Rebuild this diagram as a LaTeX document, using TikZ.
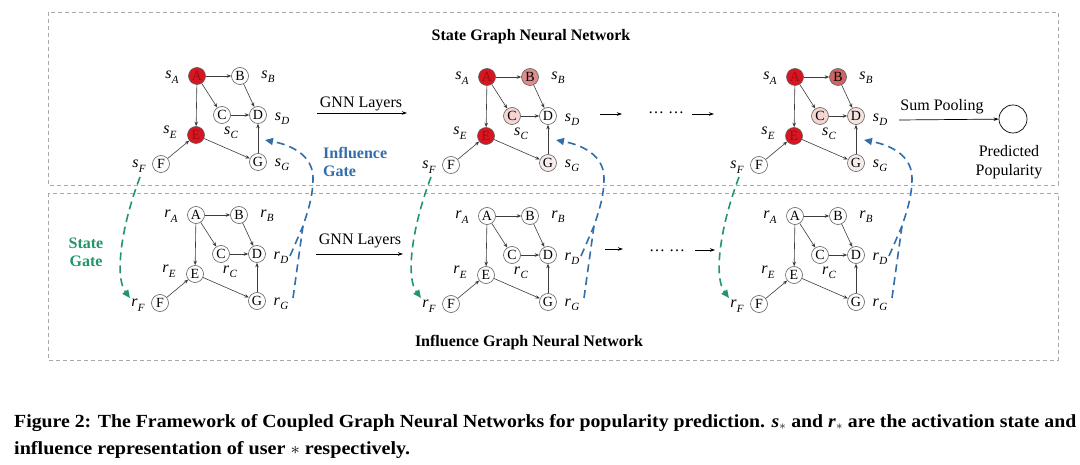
\documentclass[tikz,border=0pt]{standalone}
\usepackage{fontspec}
\setmainfont{Liberation Serif}
\usetikzlibrary{arrows.meta,calc}
\definecolor{nred}{RGB}{214,22,32}
\definecolor{redtxt}{RGB}{160,12,22}
\definecolor{pinkB}{RGB}{222,140,140}
\definecolor{pinkBB}{RGB}{206,100,100}
\definecolor{pinkC}{RGB}{245,212,210}
\definecolor{pinkD}{RGB}{246,226,222}
\definecolor{pinkG}{RGB}{246,236,236}
\definecolor{ndraw}{RGB}{95,95,95}
\definecolor{edgec}{RGB}{60,60,60}
\definecolor{boxc}{RGB}{165,170,170}
\definecolor{sgreen}{RGB}{35,150,105}
\definecolor{iblue}{RGB}{50,110,170}
\newcommand\lbl[2]{\textit{#1}\kern0.3pt\raisebox{-0.28em}{\fontsize{11}{11}\selectfont\textit{#2}}}
\newcommand\gnnet[9]{%
  \node[gn,fill=#3,text=#9] (#1A) at (197,76) {A};
  \node[gn,fill=#4] (#1B) at (240,76) {B};
  \node[gn,fill=#5] (#1C) at (222,115) {C};
  \node[gn,fill=#6] (#1D) at (258,115) {D};
  \node[gn,fill=#7,text=#9] (#1E) at (196,135) {E};
  \node[gn,fill=white] (#1F) at (161,164) {F};
  \node[gn,fill=#8] (#1G) at (258,162) {G};
  \node[lab] (#1lA) at (172,77) {\lbl{#2}{A}};
  \node[lab] (#1lB) at (268,77) {\lbl{#2}{B}};
  \node[lab] (#1lC) at (231,133) {\lbl{#2}{C}};
  \node[lab] (#1lD) at (282,119) {\lbl{#2}{D}};
  \node[lab] (#1lE) at (170,132) {\lbl{#2}{E}};
  \node[lab] (#1lF) at (139,166) {\lbl{#2}{F}};
  \node[lab] (#1lG) at (282,165) {\lbl{#2}{G}};
  \draw[edge] (#1A) -- (#1B);
  \draw[edge] (#1A) -- (#1C);
  \draw[edge] (#1A) -- (#1E);
  \draw[edge] (#1B) -- (#1D);
  \draw[edge] (#1C) -- (#1D);
  \draw[edge] (#1G) -- (#1D);
  \draw[edge] (#1E) -- (#1G);
  \draw[edge] (#1F) -- (#1E);
}
\newcommand\gates[1]{%
  \coordinate (#1Ss) at (140,177);
  \coordinate (#1Se) at (130,298);
  \coordinate (#1Rd) at (290,256);
  \coordinate (#1Rg) at (293,298);
  \coordinate (#1J) at (303,226);
  \coordinate (#1T) at (313,178);
  \coordinate (#1Tip) at (265,140);
  \draw[sgate] (#1Ss) .. controls (120,230) and (115,278) .. (#1Se);
  \draw[igatel] (#1Rd) -- (#1J);
  \draw[igate] (#1Rg) -- (#1J) .. controls (309,208) and (313,195) .. (#1T)
     .. controls (313,158) and (296,146) .. (#1Tip);
}
\tikzset{
  gn/.style={circle,draw=ndraw,line width=0.6pt,minimum size=17pt,inner sep=0pt,
    font=\fontsize{14}{14}\selectfont},
  lab/.style={font=\fontsize{16}{16}\selectfont,inner sep=0pt},
  edge/.style={draw=edgec,line width=0.6pt,-{Stealth[length=4.5pt,width=3.5pt]}},
  flow/.style={draw=black,line width=0.7pt,-{Stealth[length=5pt,width=3.5pt]}},
  boxst/.style={draw=boxc,dash pattern=on 4pt off 3pt,line width=0.7pt},
  sgate/.style={draw=sgreen,line width=1.6pt,dash pattern=on 8pt off 5pt,
    -{Triangle[length=8pt,width=7pt]}},
  igate/.style={draw=iblue,line width=1.6pt,dash pattern=on 8pt off 5pt,
    -{Triangle[length=8pt,width=7pt]}},
  igatel/.style={draw=iblue,line width=1.6pt,dash pattern=on 8pt off 5pt},
  txt/.style={font=\fontsize{16}{16}\selectfont,inner sep=0pt},
  btxt/.style={font=\bfseries\fontsize{16}{16}\selectfont,inner sep=0pt},
  captxt/.style={font=\bfseries\fontsize{18.5}{18.5}\selectfont,inner sep=0pt,anchor=base west},
}
\begin{document}
\begin{tikzpicture}[x=1pt,y=-1pt]
\useasboundingbox[fill=white] (0,0) rectangle (1080,465);
% frames
\draw[boxst] (48,12) rectangle (1058,185);
\draw[boxst] (48,193) rectangle (1058,360);
\node[btxt] (ttl1) at (531,37) {State Graph Neural Network};
\node[btxt] (ttl2) at (529,343) {Influence Graph Neural Network};
% graphs
\begin{scope}[shift={(0,0)}]
  \gnnet{ta}{s}{nred}{white}{white}{white}{nred}{white}{redtxt}
\end{scope}
\begin{scope}[shift={(290,1)}]
  \gnnet{tb}{s}{nred}{pinkB}{pinkC}{white}{nred}{pinkG}{redtxt}
\end{scope}
\begin{scope}[shift={(598,1)}]
  \gnnet{tc}{s}{nred}{pinkBB}{pinkC}{pinkD}{nred}{pinkG}{redtxt}
\end{scope}
\begin{scope}[shift={(-1,139)}]
  \gnnet{ba}{r}{white}{white}{white}{white}{white}{white}{black}
\end{scope}
\begin{scope}[shift={(290,140)}]
  \gnnet{bb}{r}{white}{white}{white}{white}{white}{white}{black}
\end{scope}
\begin{scope}[shift={(598,140)}]
  \gnnet{bc}{r}{white}{white}{white}{white}{white}{white}{black}
\end{scope}
% gates
\begin{scope}[shift={(0,0)}]\gates{ga}\end{scope}
\begin{scope}[shift={(291,0)}]\gates{gb}\end{scope}
\begin{scope}[shift={(599,0)}]\gates{gc}\end{scope}
\node[btxt,text=sgreen,align=center] (sg) at (86,252) {State\\[2pt]Gate};
\node[btxt,text=iblue,align=left,anchor=west] (ig) at (323,162) {Influence\\[2pt]Gate};
% top flow
\coordinate (f1s) at (317,113); \coordinate (f1e) at (407,113);
\draw[flow] (f1s) -- (f1e);
\node[txt] (gnn1) at (361,104) {GNN Layers};
\coordinate (f2s) at (600,114); \coordinate (f2e) at (622,114);
\draw[flow] (f2s) -- (f2e);
\node[txt] (dots1) at (666,113) {\dots\ \dots};
\coordinate (f3s) at (692,114); \coordinate (f3e) at (714,114);
\draw[flow] (f3s) -- (f3e);
\node[txt] (sp) at (942,107) {Sum Pooling};
\node[circle,draw=black,line width=0.7pt,minimum size=28pt,inner sep=0pt] (pred) at (1013,119) {};
\coordinate (f4s) at (899,120);
\draw[flow] (f4s) -- (pred);
\node[txt,align=center] (pp) at (1009,162) {Predicted\\[3pt]Popularity};
% bottom flow
\coordinate (g1s) at (316,254); \coordinate (g1e) at (403,254);
\draw[flow] (g1s) -- (g1e);
\node[txt] (gnn2) at (360,241) {GNN Layers};
\coordinate (g2s) at (605,249); \coordinate (g2e) at (623,249);
\draw[flow] (g2s) -- (g2e);
\node[txt] (dots2) at (667,251) {\dots\ \dots};
\coordinate (g3s) at (695,250); \coordinate (g3e) at (715,250);
\draw[flow] (g3s) -- (g3e);
% caption
\node[captxt] (c1) at (14,427) {\resizebox{1062pt}{\height}{Figure 2: The Framework of Coupled Graph Neural Networks for popularity prediction. \textit{s}$_*$ and \textit{r}$_*$ are the activation state and}};
\node[captxt] (c2) at (14,454) {\resizebox{396pt}{\height}{influence representation of user $*$ respectively.}};
\end{tikzpicture}
\end{document}
